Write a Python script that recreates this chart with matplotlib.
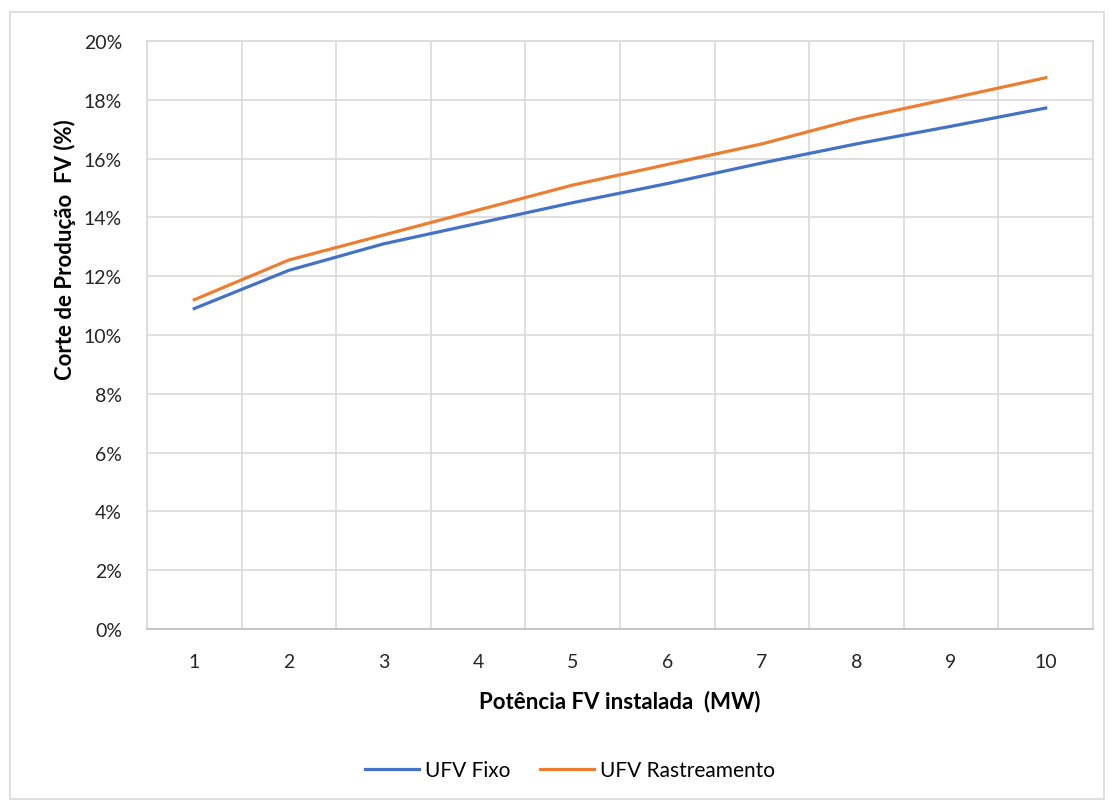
import matplotlib.pyplot as plt
from matplotlib.patches import Rectangle
from matplotlib.ticker import FuncFormatter, MultipleLocator

plt.rcParams['font.family'] = ['Lato', 'DejaVu Sans']

potencia = [1, 2, 3, 4, 5, 6, 7, 8, 9, 10]
ufv_fixo = [10.9, 12.2, 13.1, 13.8, 14.5, 15.15, 15.85, 16.5, 17.1, 17.72]
ufv_rastreamento = [11.2, 12.55, 13.4, 14.25, 15.1, 15.8, 16.5, 17.35, 18.05, 18.75]

fig = plt.figure(figsize=(11.1, 8.03), dpi=100)
ax = fig.add_axes([0.1324, 0.2154, 0.8523, 0.7323])

# moldura externa do gráfico
fig.patches.append(Rectangle((10 / 1110, 3 / 803), 1094 / 1110, 787 / 803,
                             transform=fig.transFigure, fill=False,
                             edgecolor='#d9d9d9', linewidth=1.2))

ax.plot(potencia, ufv_fixo, color='#4472C4', linewidth=2.3, label='UFV Fixo')
ax.plot(potencia, ufv_rastreamento, color='#ED7D31', linewidth=2.3,
        label='UFV Rastreamento')

ax.set_xlim(0.5, 10.5)
ax.set_ylim(0, 20)
ax.set_xticks(potencia)
ax.xaxis.set_minor_locator(MultipleLocator(1, offset=0.5))
ax.yaxis.set_major_locator(MultipleLocator(2))
ax.yaxis.set_major_formatter(FuncFormatter(lambda v, p: f'{v:.0f}%'))

ax.grid(True, which='major', axis='y', color='#d9d9d9', linewidth=1.2)
ax.grid(True, which='minor', axis='x', color='#d9d9d9', linewidth=1.2)
ax.set_axisbelow(True)
ax.tick_params(which='both', length=0, labelsize=14, colors='#262626')
ax.tick_params(axis='x', pad=17)
ax.tick_params(axis='y', pad=18)
for s in ax.spines.values():
    s.set_color('#d9d9d9')
    s.set_linewidth(1.2)
ax.spines['bottom'].set_color('#bfbfbf')

# títulos dos eixos
fig.text(620 / 1110, 1 - 702 / 803, 'Potência FV instalada  (MW)',
         fontsize=16, fontweight='bold', ha='center', va='center')
fig.text(65 / 1110, 1 - 250 / 803, 'Corte de Produção  FV (%)',
         fontsize=16, fontweight='bold', ha='center', va='center', rotation=90)

fig.legend(loc='center', bbox_to_anchor=(570 / 1110, 1 - 771 / 803), ncol=2,
           frameon=False, fontsize=15, handlelength=2.6, handletextpad=0.3,
           columnspacing=1.4)

fig.savefig('out.png', dpi=100)
